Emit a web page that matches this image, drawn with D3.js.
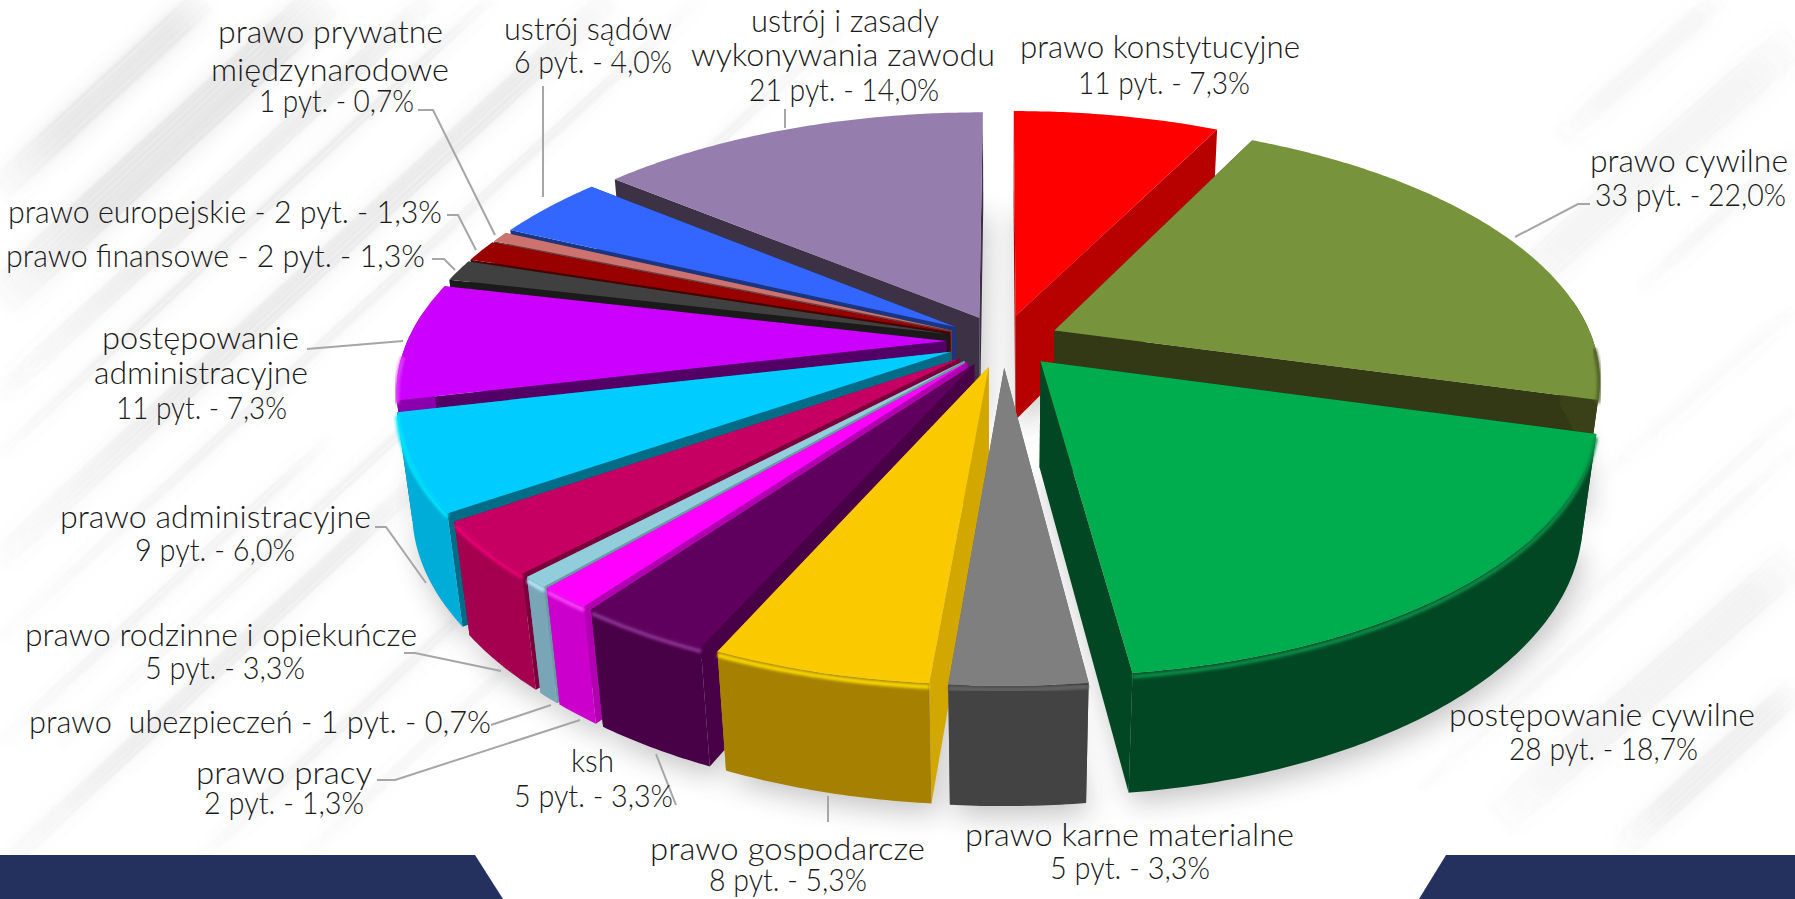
<!DOCTYPE html>
<html>
<head>
<meta charset="utf-8">
<script src="https://cdn.jsdelivr.net/npm/d3@7"></script>
<style>
  html, body { margin: 0; padding: 0; background: #fff; overflow: hidden; }
  svg { display: block; }
  text { font-family: Lato, "Open Sans", sans-serif; font-weight: 300; font-size: 31px; fill: #1a1a1a; }
</style>
</head>
<body>
<div id="chart"></div>
<script>
// Data, clockwise from 12 o'clock
const categories = ["prawo konstytucyjne", "prawo cywilne", "postępowanie cywilne", "prawo karne materialne",
    "prawo gospodarcze", "ksh", "prawo pracy", "prawo ubezpieczeń", "prawo rodzinne i opiekuńcze",
    "prawo administracyjne", "postępowanie administracyjne", "prawo finansowe", "prawo europejskie",
    "prawo prywatne międzynarodowe", "ustrój sądów", "ustrój i zasady wykonywania zawodu"];
const questions = [11, 33, 28, 5, 8, 5, 2, 1, 5, 9, 11, 2, 2, 1, 6, 21];

const topColors = ["#ff0000", "#77933c", "#00ad4e", "#7f7f7f", "#fac900", "#60005e", "#ff00ff", "#92cddc",
    "#c60062", "#00ccff", "#cc00ff", "#404040", "#990000", "#cc7370", "#3366ff", "#957dad"];
const radialColors = ["#b70000", "#333815", "#014723", "#6a6a6a", "#d2a800", "#480046", "#b000b0", "#6c99a6",
    "#7a003c", "#006c88", "#520065", "#1a1a1a", "#4a0000", "#6e3c3a", "#1c3580", "#3c3145"];
const outerColors = ["#b70000", "#3a4118", "#014723", "#434343", "#a68000", "#480046", "#cc00cc", "#78a6b6",
    "#a50050", "#00acd8", "#8a00ad", "#262626", "#660000", "#9a5552", "#24459f", "#63537a"];
const bevelColors = ["#ff0000", "#4f5f28", "#078f46", "#666666", "#ffe000", "#92309a", "#ff40ff", "#b8ecf8",
    "#ee0078", "#00e8ff", "#e040ff", "#404040", "#990000", "#cc7370", "#3366ff", "#957dad"];

// Label text, one entry per line, with the span [left, right] and baseline it sits on
const labelLines = [
    ["prawo prywatne", 218, 443, 43], ["międzynarodowe", 211, 449, 81], ["1 pyt. - 0,7%", 259, 414, 112],
    ["ustrój sądów", 504, 672, 40], ["6 pyt. - 4,0%", 514, 672, 73],
    ["ustrój i zasady", 751, 939, 32], ["wykonywania zawodu", 691, 995, 66], ["21 pyt. - 14,0%", 749, 939, 101],
    ["prawo konstytucyjne", 1020, 1300, 58], ["11 pyt. - 7,3%", 1078, 1250, 94],
    ["prawo cywilne", 1590, 1788, 172], ["33 pyt. - 22,0%", 1595, 1786, 206],
    ["postępowanie cywilne", 1449, 1755, 726], ["28 pyt. - 18,7%", 1509, 1698, 760],
    ["prawo karne materialne", 965, 1294, 846], ["5 pyt. - 3,3%", 1050, 1210, 879],
    ["prawo gospodarcze", 650, 925, 860], ["8 pyt. - 5,3%", 709, 867, 891],
    ["ksh", 571, 614, 772], ["5 pyt. - 3,3%", 514, 673, 807],
    ["prawo pracy", 196, 372, 784], ["2 pyt. - 1,3%", 204, 364, 814],
    ["prawo  ubezpieczeń - 1 pyt. - 0,7%", 29, 491, 733],
    ["prawo rodzinne i opiekuńcze", 25, 417, 646], ["5 pyt. - 3,3%", 145, 305, 679],
    ["prawo administracyjne", 60, 371, 528], ["9 pyt. - 6,0%", 135, 295, 561],
    ["postępowanie", 102, 299, 349], ["administracyjne", 94, 308, 384], ["11 pyt. - 7,3%", 116, 287, 419],
    ["prawo europejskie - 2 pyt. - 1,3%", 8, 442, 223],
    ["prawo finansowe - 2 pyt. - 1,3%", 6, 425, 267]
];

const leaders = [
    [[1590, 204], [1578, 204], [1515, 237]],
    [[785, 109], [785, 128]],
    [[543, 86], [543, 197]],
    [[418, 110], [433, 110], [495, 235]],
    [[447, 215], [458, 215], [476, 250]],
    [[432, 259], [444, 259], [455, 270]],
    [[307, 349], [403, 341]],
    [[375, 527], [386, 527], [426, 583]],
    [[404, 653], [415, 653], [501, 671]],
    [[491, 725], [551, 705]],
    [[377, 780], [395, 780], [580, 720]],
    [[656, 754], [676, 805]],
    [[828, 796], [828, 822]]
];

// Background streaks: start x, start y, end x, end y, band width, opacity
const streaks = [
    [0, 190, 205, 0, 30, 0.2], [0, 300, 325, 0, 40, 0.22], [0, 395, 430, 0, 18, 0.16], [0, 455, 490, 0, 10, 0.18],
    [0, 560, 610, 0, 22, 0.18], [0, 640, 700, 0, 9, 0.13], [60, 745, 840, 30, 8, 0.14], [0, 870, 420, 480, 16, 0.16],
    [0, 745, 330, 440, 10, 0.12], [200, 860, 480, 600, 12, 0.12], [300, 860, 560, 620, 8, 0.09],
    [1470, 330, 1795, 40, 36, 0.09], [1640, 290, 1795, 150, 12, 0.08], [1560, 140, 1720, 0, 20, 0.08],
    [1500, 820, 1795, 560, 34, 0.11], [1620, 850, 1795, 690, 24, 0.14], [1420, 790, 1795, 450, 10, 0.07],
    [1600, 480, 1795, 310, 10, 0.05], [1540, 640, 1795, 410, 8, 0.06]
];

const width = 1795, height = 899;

// Pie geometry, fitted to the picture
const cx = 1003, cy = 341, rx = 539, ry = 250, depth = 108;
const tilt = 0.18, sink = 0.025, explode = 0.105;

const svg = d3.select("#chart")
    .append("svg")
    .attr("width", width)
    .attr("height", height);

const defs = svg.append("defs");
[["blurHair", 1.1], ["blurWide", 7], ["blurBevel", 1.6], ["blurShadow", 14]].forEach(([id, s]) => {
    defs.append("filter").attr("id", id)
        .attr("x", "-20%").attr("y", "-20%").attr("width", "140%").attr("height", "140%")
        .append("feGaussianBlur").attr("stdDeviation", s);
});

// Each streak fades in from its lower left end
streaks.forEach((s, n) => {
    const grad = defs.append("linearGradient").attr("id", "streak" + n)
        .attr("gradientUnits", "userSpaceOnUse")
        .attr("x1", s[0]).attr("y1", s[1]).attr("x2", s[2]).attr("y2", s[3]);
    grad.append("stop").attr("offset", 0).attr("stop-color", "#8c8c8c").attr("stop-opacity", 0.15);
    grad.append("stop").attr("offset", 0.3).attr("stop-color", "#8c8c8c").attr("stop-opacity", 1);
    grad.append("stop").attr("offset", 0.85).attr("stop-color", "#8c8c8c").attr("stop-opacity", 1);
    grad.append("stop").attr("offset", 1).attr("stop-color", "#8c8c8c").attr("stop-opacity", 0.2);
});

// Background: a soft wide band under a bundle of hair lines
svg.append("rect").attr("width", width).attr("height", height).attr("fill", "#fff");
svg.append("g").attr("filter", "url(#blurWide)")
    .selectAll("line").data(streaks).enter().append("line")
    .attr("x1", d => d[0]).attr("y1", d => d[1])
    .attr("x2", d => d[2]).attr("y2", d => d[3])
    .attr("stroke", (d, n) => `url(#streak${n})`)
    .attr("stroke-width", d => d[4] * 1.3)
    .attr("stroke-opacity", d => d[5] * 0.5);

const hairs = [];
streaks.forEach((s, n) => {
    const len = Math.hypot(s[2] - s[0], s[3] - s[1]);
    const nx = -(s[3] - s[1]) / len, ny = (s[2] - s[0]) / len;
    d3.range(-s[4] / 2, s[4] / 2, 2.5).forEach((k, j) => {
        hairs.push({
            n,
            x1: s[0] + k * nx, y1: s[1] + k * ny,
            x2: s[2] + k * nx, y2: s[3] + k * ny,
            o: s[5] * (0.3 + 0.7 * Math.abs(Math.sin(j * 1.7 + n)))
        });
    });
});
svg.append("g").attr("filter", "url(#blurHair)")
    .selectAll("line").data(hairs).enter().append("line")
    .attr("x1", d => d.x1).attr("y1", d => d.y1)
    .attr("x2", d => d.x2).attr("y2", d => d.y2)
    .attr("stroke", d => `url(#streak${d.n})`)
    .attr("stroke-width", 1.6)
    .attr("stroke-opacity", d => d.o);

// Navy bars at the bottom
const poly = d3.line();
svg.append("path").attr("d", poly([[0, 855], [475, 855], [503, 899], [0, 899]]) + "Z").attr("fill", "#24315e");
svg.append("path").attr("d", poly([[1446, 855], [1795, 855], [1795, 899], [1419, 899]]) + "Z").attr("fill", "#24315e");

// Plane (x right, y to the viewer) and depth d (0 top, 1 base) to the screen
function project(x, y, d) {
    const w = 1 - tilt * y + sink * d;
    return [cx + rx * x / w, cy + (ry * y + depth * d) / w];
}

const pie = d3.pie().sort(null).value(d => d);
const slices = pie(questions).map((s, i) => {
    const mid = (s.startAngle + s.endAngle) / 2;
    const ox = explode * Math.sin(mid), oy = -explode * Math.cos(mid);
    const rim = d3.range(s.startAngle, s.endAngle, 0.01).concat([s.endAngle]);
    const at = (a, d) => project(ox + Math.sin(a), oy - Math.cos(a), d);
    return {
        i, mid, ox, oy, rim, at,
        apexTop: project(ox, oy, 0),
        apexBase: project(ox, oy, 1)
    };
});

// Ground shadow from the base outlines
const shadow = svg.append("g").attr("filter", "url(#blurShadow)").attr("transform", "translate(4,10)").attr("opacity", 0.3);
slices.forEach(s => {
    shadow.append("path")
        .attr("d", poly([s.apexBase].concat(s.rim.map(a => s.at(a, 1)))) + "Z")
        .attr("fill", "#404040");
});

// Leader lines sit under the slices
svg.append("g").selectAll("path").data(leaders).enter().append("path")
    .attr("d", d => poly(d))
    .attr("fill", "none")
    .attr("stroke", "#a6a6a6")
    .attr("stroke-width", 2);

// Far slices first
const drawOrder = slices.slice().sort((a, b) => (-Math.cos(a.mid)) - (-Math.cos(b.mid)));
const pieGroup = svg.append("g");

drawOrder.forEach(s => {
    const g = pieGroup.append("g");
    const first = s.rim[0], last = s.rim[s.rim.length - 1];

    // the two cut faces
    [first, last].forEach(a => {
        g.append("path")
            .attr("d", poly([s.apexTop, s.at(a, 0), s.at(a, 1), s.apexBase]) + "Z")
            .attr("fill", radialColors[s.i]);
    });

    // outer wall, only the part turned to the viewer
    const wall = s.rim.filter(a => -Math.cos(a) > -0.12);
    if (wall.length > 1) {
        g.append("path")
            .attr("d", poly(wall.map(a => s.at(a, 0)).concat(wall.slice().reverse().map(a => s.at(a, 1)))) + "Z")
            .attr("fill", outerColors[s.i]);
    }

    // top
    g.append("path")
        .attr("d", poly([s.apexTop].concat(s.rim.map(a => s.at(a, 0)))) + "Z")
        .attr("fill", topColors[s.i]);

    // soft bevel where the top meets the front of the wall
    const front = s.rim.filter(a => -Math.cos(a) > 0.05);
    if (front.length > 1) {
        g.append("path")
            .attr("d", poly(front.map(a => s.at(a, 0.03))))
            .attr("fill", "none")
            .attr("stroke", bevelColors[s.i])
            .attr("stroke-width", 4)
            .attr("filter", "url(#blurBevel)");
    }
});

// Labels
svg.append("g").selectAll("text").data(labelLines).enter().append("text")
    .attr("x", d => d[1])
    .attr("y", d => d[3])
    .attr("textLength", d => d[2] - d[1])
    .attr("lengthAdjust", "spacingAndGlyphs")
    .style("white-space", "pre")
    .text(d => d[0]);
</script>
</body>
</html>
